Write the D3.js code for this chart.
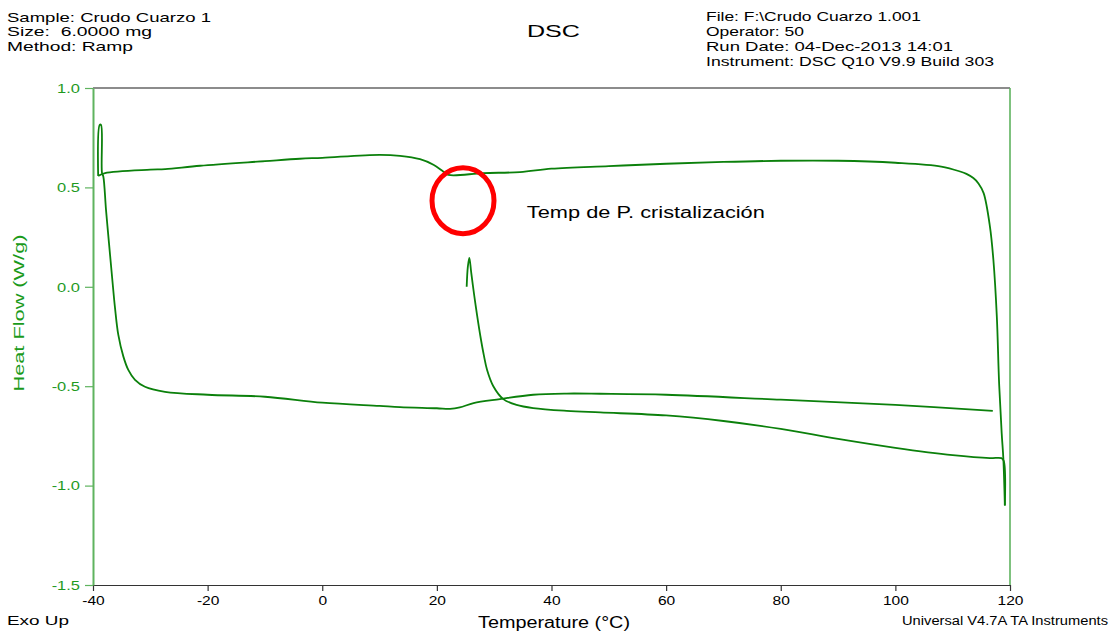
<!DOCTYPE html>
<html><head><meta charset="utf-8">
<script src="https://cdn.jsdelivr.net/npm/d3@7"></script>
<style>body{margin:0;background:#fff} text{font-family:"Liberation Sans",Arial,sans-serif}</style>
</head><body><svg id="c" width="1117" height="631"></svg>
<script>
// ---- data ----
// first heating (starts at ~25 °C)
const tempA=[25.2,25.4,25.66,26.0,26.5,27.0,27.6,28.2,28.75,29.85,31.6,33.9,36.8,42.65,48.5,60,70,80,90,100,110,116.5,118.5,118.9,119.1];
const flowA=[0.0,0.10,0.146,0.07,-0.04,-0.14,-0.25,-0.345,-0.417,-0.50,-0.565,-0.594,-0.61,-0.624,-0.632,-0.647,-0.675,-0.715,-0.765,-0.81,-0.847,-0.862,-0.862,-0.875,-1.10];
// cooling (119 -> -39 °C)
const tempC=[119.1,118.85,118.55,118.1,117.7,117.1,116.5,115.4,114.5,113.6,112.4,111.3,108,100,90,80,70,60,50,40,34.5,28.1,22.0,21.1,19.4,17.06,13.57,10,0,-3.9,-10,-21.3,-27.4,-30,-37.9,-39.1];
const flowC=[-1.10,-0.87,-0.736,-0.485,-0.149,0.136,0.303,0.471,0.52,0.547,0.568,0.58,0.605,0.624,0.634,0.634,0.628,0.619,0.607,0.594,0.577,0.572,0.563,0.58,0.614,0.642,0.659,0.664,0.649,0.644,0.632,0.609,0.592,0.589,0.572,0.558];
// second heating (-39 -> 117 °C)
const tempB=[-39.1,-38.83,-38.6,-38.43,-38.2,-37.73,-37.21,-36.68,-36.16,-35.59,-34.71,-33.84,-32.67,-30.93,-27.44,-20,-10,0,10,13.57,20,22.3,24.0,26.4,31.0,36.8,42.65,48.5,60,80,100,117];
const flowB=[0.558,0.815,0.815,0.573,0.555,0.387,0.22,0.052,-0.106,-0.241,-0.35,-0.418,-0.468,-0.503,-0.528,-0.543,-0.553,-0.583,-0.599,-0.605,-0.611,-0.614,-0.607,-0.585,-0.565,-0.543,-0.537,-0.538,-0.543,-0.568,-0.594,-0.624];

const xMajor=[-40,-20,0,20,40,60,80,100,120];
const xMinor=d3.range(-40,121,5);
const yMajor=[-1.5,-1.0,-0.5,0.0,0.5,1.0];
const yMinor=d3.range(-1.5,1.0001,0.125);

const headerLeft=["Sample: Crudo Cuarzo 1","Size:  6.0000 mg","Method: Ramp"];
const headerLeftW=[204,145,126];
const headerRight=["File: F:\\Crudo Cuarzo 1.001","Operator: 50","Run Date: 04-Dec-2013 14:01","Instrument: DSC Q10 V9.9 Build 303"];
const headerRightW=[215,98,247,288];
const annotation={t:24.56,v:0.433,label:"Temp de P. cristalización",lt:35.7,lv:0.347};

// ---- drawing ----
const svg=d3.select("#c");
const x=d3.scaleLinear().domain([-40,120]).range([93,1010]);
const y=d3.scaleLinear().domain([-1.5,1.0]).range([585,88]);
const GREEN="#0b800b", AXG="#5fb35f", LBLG="#1f9a1f";

function txt(str,px,py,opt){
  const t=svg.append("text").attr("x",px).attr("y",py).text(str)
    .attr("font-size",opt.size||13).attr("fill",opt.fill||"#000")
    .attr("text-anchor",opt.anchor||"start").style("white-space","pre");
  if(opt.len) t.attr("textLength",opt.len).attr("lengthAdjust","spacingAndGlyphs");
  if(opt.rot) t.attr("transform",`rotate(${opt.rot},${px},${py})`);
  return t;
}

headerLeft.forEach((s,i)=>txt(s,7,21.5+i*14.6,{size:13,len:headerLeftW[i]}));
headerRight.forEach((s,i)=>txt(s,706,20.7+i*15,{size:13,len:headerRightW[i]}));
txt("DSC",527,37,{size:17,len:53});

// frame
svg.append("line").attr("x1",x(-40)).attr("x2",x(120)).attr("y1",y(1)).attr("y2",y(1)).attr("stroke","#666").attr("stroke-width",1.3);
svg.append("line").attr("x1",x(120)).attr("x2",x(120)).attr("y1",y(1)).attr("y2",y(-1.5)).attr("stroke",AXG).attr("stroke-width",1.6);

// x axis
const gx=svg.append("g").attr("transform",`translate(0,${y(-1.5)})`);
gx.call(d3.axisBottom(x).tickValues(xMinor).tickSize(3).tickSizeOuter(0).tickFormat(""));
gx.call(d3.axisBottom(x).tickValues(xMajor).tickSize(6).tickSizeOuter(0).tickPadding(4).tickFormat(d=>String(d)));
gx.selectAll("path,line").attr("stroke","#333").attr("stroke-width",1.2);
gx.selectAll("text").attr("font-size",13.5).attr("fill","#000").attr("font-family","Liberation Sans, Arial, sans-serif")
  .each(function(){const L=this.getComputedTextLength(); if(L>0) d3.select(this).attr("textLength",L*1.15).attr("lengthAdjust","spacingAndGlyphs");});

// y axis
const gy=svg.append("g").attr("transform",`translate(${x(-40)},0)`);
gy.call(d3.axisLeft(y).tickValues(yMinor).tickSize(4).tickSizeOuter(0).tickFormat(""));
gy.call(d3.axisLeft(y).tickValues(yMajor).tickSize(8).tickSizeOuter(0).tickPadding(5).tickFormat(d=>d.toFixed(1)));
gy.selectAll("line").attr("stroke",AXG).attr("stroke-width",1.2);
gy.selectAll("path").attr("stroke",AXG).attr("stroke-width",2);
gy.selectAll("text").attr("font-size",13.5).attr("fill",LBLG).attr("font-family","Liberation Sans, Arial, sans-serif")
  .each(function(){const L=this.getComputedTextLength(); if(L>0) d3.select(this).attr("textLength",L*1.22).attr("lengthAdjust","spacingAndGlyphs");});

// curves
const line=d3.line().x(d=>x(d[0])).y(d=>y(d[1])).curve(d3.curveCatmullRom.alpha(0.5));
[[tempA,flowA],[tempC,flowC],[tempB,flowB]].forEach(([t,f])=>{
  svg.append("path").datum(t.map((v,i)=>[v,f[i]])).attr("d",line)
    .attr("fill","none").attr("stroke",GREEN).attr("stroke-width",1.8).attr("stroke-linejoin","round");
});

// annotation
svg.append("ellipse").attr("cx",x(annotation.t)).attr("cy",y(annotation.v)).attr("rx",31).attr("ry",33)
  .attr("fill","none").attr("stroke","#ff0000").attr("stroke-width",5);
txt(annotation.label,x(annotation.lt),y(annotation.lv),{size:16,len:238});

// labels
txt("Heat Flow (W/g)",24,313,{size:15,len:157,fill:"#1a9a1a",anchor:"middle",rot:-90});
txt("Temperature (°C)",478,628,{size:16,len:152});
txt("Exo Up",7,625,{size:12,len:62});
txt("Universal V4.7A TA Instruments",902,625,{size:12,len:206});
</script></body></html>
